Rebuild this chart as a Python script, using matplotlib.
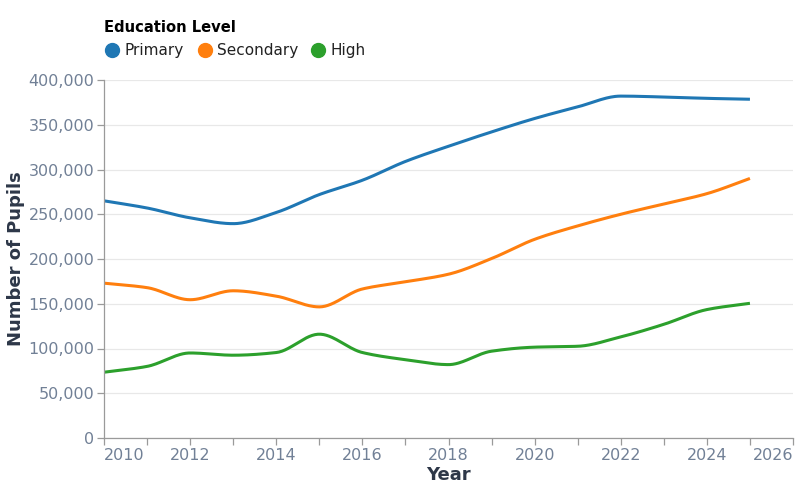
import numpy as np
import matplotlib
matplotlib.use("Agg")
import matplotlib.pyplot as plt
from matplotlib.ticker import FuncFormatter, MultipleLocator

# pupils per year
years = [2010, 2011, 2012, 2013, 2014, 2015, 2016, 2017, 2018, 2019, 2020, 2021, 2022, 2023, 2024, 2025]
primary = [265000, 257000, 246000, 239500, 252000, 272000, 288000, 309000, 326000, 342000,
           357000, 370000, 382000, 381000, 379500, 378500]
secondary = [173000, 168000, 154500, 164500, 158500, 146500, 166500, 174500, 183000, 200500,
             222000, 237000, 250000, 261500, 273000, 290000]
high = [73500, 80000, 95000, 92500, 95500, 116000, 95500, 87500, 82000, 97000,
        101500, 102500, 113000, 127000, 143500, 150500]
year_ticks = [2010, 2012, 2014, 2016, 2018, 2020, 2022, 2024, 2026]

series = [("Primary", primary, "#1f77b4"),
          ("Secondary", secondary, "#ff7f0e"),
          ("High", high, "#2ca02c")]

tick_color = "#718096"
title_color = "#2d3748"
axis_color = "#9a9a9a"


def monotone_path(x, y, n=30):
    # monotone cubic (Fritsch-Carlson) curve through the points, for drawing only
    x = np.asarray(x, float)
    y = np.asarray(y, float)
    h = np.diff(x)
    d = np.diff(y) / h
    m = np.zeros_like(y)
    m[0], m[-1] = d[0], d[-1]
    for i in range(1, len(y) - 1):
        if d[i - 1] * d[i] <= 0:
            m[i] = 0
        else:
            m[i] = 3 * (h[i - 1] + h[i]) / ((2 * h[i] + h[i - 1]) / d[i - 1] + (h[i] + 2 * h[i - 1]) / d[i])
    xs, ys = [], []
    for i in range(len(h)):
        t = np.linspace(0, 1, n, endpoint=False)
        h00 = 2 * t**3 - 3 * t**2 + 1
        h10 = t**3 - 2 * t**2 + t
        h01 = -2 * t**3 + 3 * t**2
        h11 = t**3 - t**2
        xs.append(x[i] + t * h[i])
        ys.append(h00 * y[i] + h10 * h[i] * m[i] + h01 * y[i + 1] + h11 * h[i] * m[i + 1])
    xs.append([x[-1]])
    ys.append([y[-1]])
    return np.concatenate(xs), np.concatenate(ys)


fig = plt.figure(figsize=(8, 5), dpi=100)
ax = fig.add_axes([104 / 800, 1 - 438 / 500, (793 - 104) / 800, (438 - 80) / 500])

for name, vals, col in series:
    px, py = monotone_path(years, vals)
    ax.plot(px, py, color=col, lw=2.2, solid_capstyle="butt")

ax.set_xlim(2010, 2026)
ax.set_ylim(0, 400000)
ax.set_xticks(year_ticks)
ax.set_xticklabels([str(y) for y in year_ticks])
ax.xaxis.set_minor_locator(MultipleLocator(1))
ax.yaxis.set_major_locator(MultipleLocator(50000))
ax.yaxis.set_major_formatter(FuncFormatter(lambda v, p: f"{int(v):,}"))

ax.grid(axis="y", color="#e8e8e8", lw=0.9)
ax.set_axisbelow(True)
for s in ["top", "right"]:
    ax.spines[s].set_visible(False)
for s in ["left", "bottom"]:
    ax.spines[s].set_color(axis_color)
    ax.spines[s].set_linewidth(0.9)

ax.tick_params(axis="both", which="both", colors=axis_color, labelcolor=tick_color,
               labelsize=11.5, length=5, width=0.9)
ax.tick_params(axis="x", which="both", pad=2)
ax.tick_params(axis="y", pad=2)
labels = ax.get_xticklabels()
labels[0].set_horizontalalignment("left")
labels[-1].set_horizontalalignment("right")

ax.set_xlabel("Year", fontsize=13, fontweight="bold", color=title_color)
ax.set_ylabel("Number of Pupils", fontsize=13, fontweight="bold", color=title_color)
ax.xaxis.label.set_va("center")
ax.yaxis.label.set_va("center")
ax.xaxis.set_label_coords(0.5, (438 - 475) / 358)
ax.yaxis.set_label_coords((16 - 104) / 689, 0.5)

# legend on top
fig.text(104 / 800, 1 - 28 / 500, "Education Level", fontsize=10.6, fontweight="bold",
         color="black", va="center", ha="left")
leg_x = [112, 205, 318]
for (name, vals, col), lx in zip(series, leg_x):
    fig.lines.append(plt.Line2D([lx / 800], [1 - 50 / 500], transform=fig.transFigure,
                                marker="o", ms=10, color=col, ls=""))
    fig.text((lx + 12) / 800, 1 - 50 / 500, name, fontsize=11, color="#222222",
             va="center", ha="left")

fig.savefig("out.png", dpi=100)
